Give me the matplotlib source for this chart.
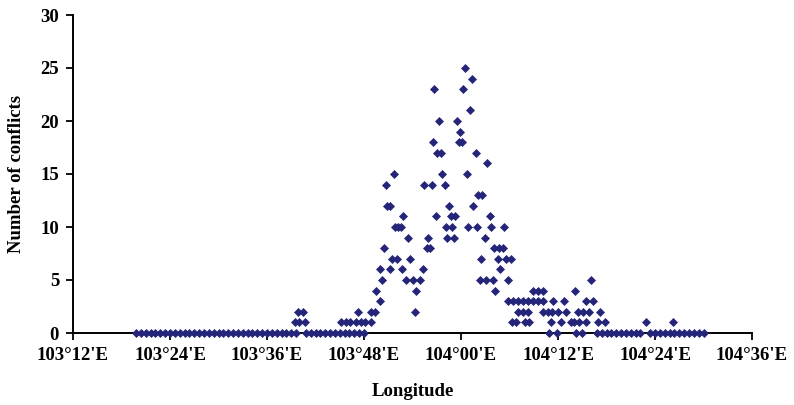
import numpy as np
import matplotlib
matplotlib.use("Agg")
import matplotlib.pyplot as plt

# longitudes (decimal degrees) of the cells with zero conflicts
zero_lon = [
    103.33, 103.34, 103.35, 103.36, 103.37, 103.38, 103.39, 103.40, 103.41, 103.42,
    103.43, 103.44, 103.45, 103.46, 103.47, 103.48, 103.49, 103.50, 103.51, 103.52,
    103.53, 103.54, 103.55, 103.56, 103.57, 103.58, 103.59, 103.60, 103.61, 103.62,
    103.63, 103.64, 103.65, 103.66, 103.68, 103.69, 103.70, 103.71, 103.72,
    103.73, 103.74, 103.75, 103.76, 103.77, 103.78, 103.79, 103.80,
    104.182, 104.198, 104.237, 104.250,
    104.28, 104.29, 104.30, 104.31, 104.32, 104.33, 104.34, 104.35, 104.36, 104.37,
    104.39, 104.40, 104.41, 104.42, 104.43, 104.44, 104.45, 104.46, 104.47, 104.48,
    104.49, 104.50,
]

# non-zero cells: longitude and number of conflicts
lon = [
    103.657, 103.667, 103.678, 103.663, 103.674,
    103.752, 103.762, 103.772, 103.783, 103.793, 103.803, 103.815,
    103.787, 103.814, 103.822, 103.834, 103.825, 103.837, 103.832,
    103.842, 103.845, 103.847, 103.854, 103.862, 103.858, 103.869,
    103.854, 103.878, 103.922, 103.864, 103.870, 103.876, 103.881,
    103.886, 103.900, 103.916, 103.891, 103.932, 103.895, 103.907, 103.905,
    103.929, 103.936, 103.924, 103.940, 103.948, 103.942, 103.944,
    103.951, 103.959, 103.954, 103.961, 103.966, 103.969, 103.981,
    103.971, 103.986, 103.976, 103.980, 103.987, 103.991, 103.996, 104.003,
    103.998, 104.005, 104.008, 104.013, 104.015, 104.032, 104.018, 104.023,
    104.025, 104.030, 104.035, 104.044, 104.039, 104.052, 104.067, 104.042,
    104.049, 104.054, 104.059, 104.061, 104.088, 104.068, 104.079, 104.086,
    104.071, 104.076, 104.092, 104.103, 104.081, 104.096,
    104.096, 104.107, 104.117, 104.127, 104.138, 104.148, 104.158, 104.169,
    104.117, 104.127, 104.138, 104.169, 104.179, 104.188, 104.200, 104.217,
    104.241, 104.251, 104.264, 104.286,
    104.106, 104.114, 104.131, 104.141, 104.186, 104.207, 104.227, 104.234,
    104.244, 104.258, 104.282, 104.296, 104.382, 104.437,
    104.189, 104.213, 104.258, 104.272,
    104.148, 104.158, 104.169, 104.235, 104.269,
]
conflicts = [
    1, 1, 1, 2, 2,
    1, 1, 1, 1, 1, 1, 1,
    2, 2, 2, 3, 4, 5, 6,
    8, 14, 12, 12, 15, 7, 7,
    6, 6, 6, 10, 10, 10, 11,
    5, 5, 5, 9, 9, 7, 4, 2,
    8, 8, 14, 14, 11, 18, 23,
    17, 17, 20, 15, 14, 10, 10,
    9, 9, 12, 11, 11, 20, 18, 18,
    19, 23, 25, 15, 10, 10, 21, 24,
    12, 17, 13, 13, 5, 5, 5, 7,
    9, 16, 11, 10, 10, 8, 8, 8,
    4, 7, 7, 7, 6, 5,
    3, 3, 3, 3, 3, 3, 3, 3,
    2, 2, 2, 2, 2, 2, 2, 2,
    2, 2, 2, 2,
    1, 1, 1, 1, 1, 1, 1, 1,
    1, 1, 1, 1, 1, 1,
    3, 3, 3, 3,
    4, 4, 4, 4, 5,
]

x_ticks = [103.2, 103.4, 103.6, 103.8, 104.0, 104.2, 104.4, 104.6]
x_tick_labels = ["103°12'E", "103°24'E", "103°36'E", "103°48'E",
                 "104°00'E", "104°12'E", "104°24'E", "104°36'E"]
y_ticks = [0, 5, 10, 15, 20, 25, 30]

plt.rcParams['font.family'] = ['Liberation Serif', 'DejaVu Serif']
plt.rcParams['font.weight'] = 'bold'

fig = plt.figure(figsize=(7.94, 4.05), dpi=100)
ax = fig.add_axes([73 / 794, 1 - 333 / 405, 679 / 794, 318 / 405])

all_lon = np.concatenate([zero_lon, lon])
all_cnt = np.concatenate([np.zeros(len(zero_lon)), conflicts])
ax.plot(all_lon, all_cnt, linestyle='none', marker='D', markersize=4.0,
        markerfacecolor='#242478', markeredgecolor='#242478', markeredgewidth=0.5,
        clip_on=False, zorder=3)

ax.set_xlim(103.2, 104.6)
ax.set_ylim(0, 30)
ax.set_xticks(x_ticks)
ax.set_xticklabels(x_tick_labels)
ax.set_yticks(y_ticks)

for side in ['top', 'right']:
    ax.spines[side].set_visible(False)
for side in ['left', 'bottom']:
    ax.spines[side].set_linewidth(1.4)
ax.tick_params(direction='out', length=5, width=1.3, labelsize=13.5, pad=5)

ax.set_xlabel('Longitude', fontsize=13.5, fontweight='bold')
ax.set_ylabel('Number of conflicts', fontsize=13.5, fontweight='bold')
ax.xaxis.set_label_coords(0.5, -0.158)
ax.yaxis.set_label_coords(-0.071, 0.5)

fig.savefig('out.png', dpi=100)
